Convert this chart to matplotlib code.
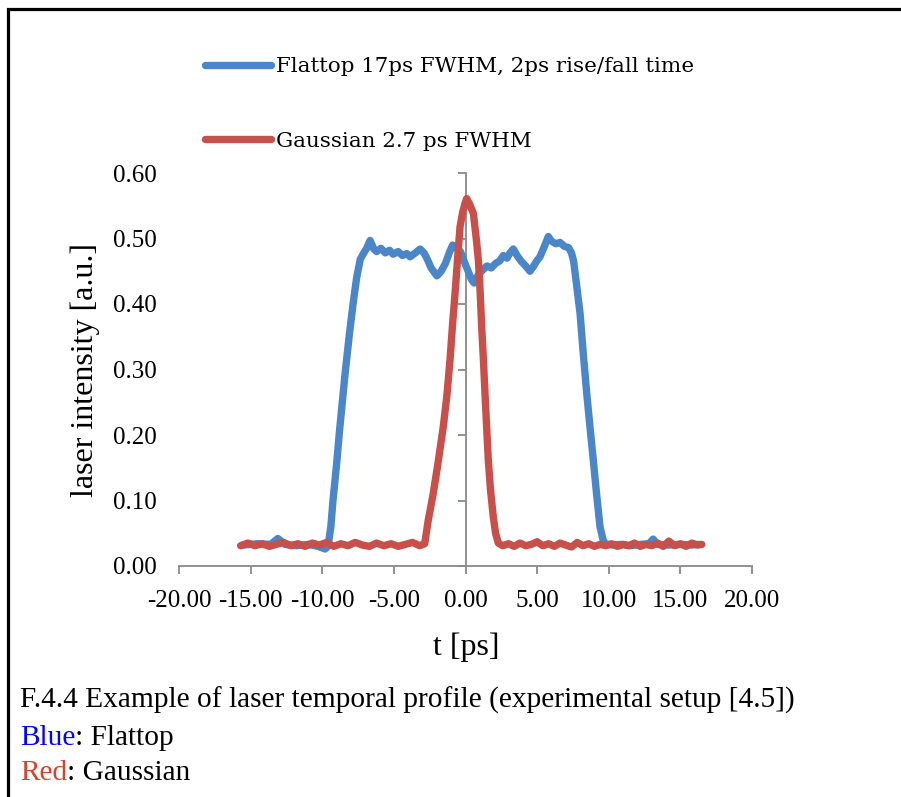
import matplotlib
matplotlib.use("Agg")
import matplotlib.pyplot as plt
from matplotlib.patches import Rectangle

# Flattop pulse (blue)
flat_t = [-15.5, -14.5, -13.6, -13.1, -12.6, -11.8, -11.0, -10.3, -9.8, -9.6,
          -9.4, -9.25, -9.0, -8.8, -8.6, -8.4, -8.1, -7.85, -7.6, -7.35,
          -7.1, -6.9, -6.66, -6.4, -6.2, -5.9, -5.6, -5.3, -5.05, -4.7,
          -4.4, -4.1, -3.87, -3.5, -3.17, -2.9, -2.7, -2.4, -2.0, -1.7,
          -1.4, -1.1, -0.9, -0.6, -0.35, -0.15, 0.15, 0.4, 0.6, 0.9,
          1.2, 1.5, 1.8, 2.1, 2.4, 2.64, 2.9, 3.1, 3.34, 3.6,
          3.9, 4.2, 4.5, 4.7, 4.95, 5.2, 5.45, 5.78, 6.0, 6.3,
          6.6, 6.9, 7.2, 7.4, 7.55, 7.75, 8.0, 8.2, 8.46, 8.7,
          8.92, 9.15, 9.39, 9.6, 9.75, 10.2, 10.8, 11.5, 12.2, 12.8,
          13.1, 13.4, 14.2, 15.0, 15.8, 16.3]
flat_i = [0.032, 0.034, 0.033, 0.042, 0.033, 0.031, 0.033, 0.030, 0.026, 0.030,
          0.060, 0.100, 0.155, 0.205, 0.250, 0.295, 0.355, 0.400, 0.440, 0.468,
          0.478, 0.485, 0.497, 0.484, 0.480, 0.485, 0.478, 0.482, 0.476, 0.480,
          0.474, 0.477, 0.472, 0.478, 0.484, 0.478, 0.470, 0.455, 0.443, 0.450,
          0.462, 0.480, 0.490, 0.485, 0.480, 0.468, 0.452, 0.438, 0.432, 0.445,
          0.452, 0.458, 0.455, 0.462, 0.466, 0.474, 0.470, 0.478, 0.484, 0.474,
          0.465, 0.458, 0.450, 0.456, 0.465, 0.472, 0.485, 0.503, 0.496, 0.492,
          0.494, 0.488, 0.486, 0.478, 0.465, 0.430, 0.385, 0.330, 0.264, 0.210,
          0.162, 0.110, 0.060, 0.040, 0.034, 0.032, 0.033, 0.031, 0.033, 0.034,
          0.041, 0.033, 0.032, 0.033, 0.032, 0.033]

# Gaussian pulse (red)
gauss_t = [-15.7, -15.2, -14.7, -14.2, -13.7, -13.2, -12.7, -12.2, -11.7, -11.2,
           -10.7, -10.2, -9.7, -9.2, -8.7, -8.2, -7.7, -7.2, -6.7, -6.2,
           -5.7, -5.2, -4.7, -4.2, -3.7, -3.2, -2.85, -2.6, -2.25, -1.9,
           -1.55, -1.3, -1.08, -0.9, -0.73, -0.55, -0.38, -0.2, -0.03, 0.08,
           0.3, 0.55, 0.75, 0.9, 1.02, 1.13, 1.25, 1.36, 1.48, 1.59,
           1.75, 1.94, 2.1, 2.29, 2.6, 3.0, 3.4, 3.8, 4.2, 4.6,
           5.0, 5.4, 5.8, 6.2, 6.6, 7.0, 7.4, 7.8, 8.2, 8.6,
           9.0, 9.4, 9.8, 10.2, 10.6, 11.0, 11.4, 11.8, 12.2, 12.6,
           13.0, 13.4, 13.8, 14.2, 14.6, 15.0, 15.4, 15.8, 16.2, 16.5]
gauss_i = [0.031, 0.035, 0.031, 0.034, 0.030, 0.033, 0.036, 0.031, 0.034, 0.030,
           0.035, 0.032, 0.036, 0.030, 0.034, 0.031, 0.036, 0.032, 0.030, 0.035,
           0.031, 0.034, 0.030, 0.033, 0.036, 0.031, 0.034, 0.070, 0.111, 0.160,
           0.213, 0.260, 0.315, 0.370, 0.416, 0.470, 0.518, 0.540, 0.554, 0.561,
           0.552, 0.538, 0.500, 0.467, 0.420, 0.365, 0.315, 0.264, 0.210, 0.162,
           0.115, 0.075, 0.050, 0.035, 0.031, 0.034, 0.030, 0.035, 0.031, 0.033,
           0.037, 0.031, 0.034, 0.030, 0.035, 0.032, 0.029, 0.036, 0.031, 0.034,
           0.030, 0.033, 0.031, 0.034, 0.030, 0.033, 0.031, 0.035, 0.030, 0.033,
           0.031, 0.035, 0.030, 0.038, 0.031, 0.034, 0.030, 0.035, 0.032, 0.033]

labels = ["Flattop 17ps FWHM, 2ps rise/fall time", "Gaussian 2.7 ps FWHM"]
xticks = [-20, -15, -10, -5, 0, 5, 10, 15, 20]
xtick_labels = ["-20.00", "-15.00", "-10.00", "-5.00", "0.00", "5.00", "10.00", "15.00", "20.00"]
yticks = [0.0, 0.1, 0.2, 0.3, 0.4, 0.5, 0.6]
ytick_labels = ["0.00", "0.10", "0.20", "0.30", "0.40", "0.50", "0.60"]

blue = "#4A86C8"
red = "#C8504A"
grey = "#898989"
serif = "Liberation Serif"

W, H = 901, 797
fig = plt.figure(figsize=(W / 100, H / 100), dpi=100)
ax = fig.add_axes([179 / W, 1 - 566 / H, 573 / W, 393 / H])

l1, = ax.plot(flat_t, flat_i, color=blue, lw=5.3, solid_capstyle="round", solid_joinstyle="round")
l2, = ax.plot(gauss_t, gauss_i, color=red, lw=5.3, solid_capstyle="round", solid_joinstyle="round")

ax.set_xlim(-20, 20)
ax.set_ylim(0, 0.6)
for s in ["left", "right", "top"]:
    ax.spines[s].set_visible(False)
ax.spines["bottom"].set_color(grey)
ax.spines["bottom"].set_linewidth(1.3)

ax.set_xticks(xticks, labels=xtick_labels, fontfamily=serif, fontsize=18)
ax.set_yticks(yticks, labels=ytick_labels, fontfamily=serif, fontsize=18)
ax.tick_params(axis="x", length=6, width=1.3, color=grey, pad=11)
ax.tick_params(axis="y", length=0, pad=16)

# vertical axis through t = 0
sec = ax.secondary_yaxis(0.5)
sec.set_alignment("left")
sec.set_yticks(yticks, labels=[""] * len(yticks))
sec.spines["left"].set_color(grey)
sec.spines["left"].set_linewidth(1.3)
sec.tick_params(axis="y", length=6, width=1.3, color=grey)

fig.text(85 / W, 1 - 370 / H, "laser intensity [a.u.]", rotation=90,
         ha="center", va="center", fontfamily=serif, fontsize=23)
fig.text(466 / W, 1 - 647 / H, "t [ps]", ha="center", va="center",
         fontfamily=serif, fontsize=23)

fig.legend([l1, l2], labels, loc="upper left", bbox_to_anchor=(205 / W, 1 - 57 / H),
           frameon=False, borderpad=0, borderaxespad=0, handlelength=3.1,
           handletextpad=0.2, labelspacing=2.6,
           prop={"family": "DejaVu Serif", "size": 15.4})

# caption below the chart
cap_kw = dict(fontfamily=serif, fontsize=21.2, va="baseline", ha="left")
fig.text(20 / W, 1 - 708 / H, "F.4.4 Example of laser temporal profile (experimental setup [4.5])", **cap_kw)
b = fig.text(20 / W, 1 - 745 / H, "Blue", color="#0000FF", **cap_kw)
ax.annotate(": Flattop", xy=(1, 0), xycoords=b, va="bottom", ha="left",
            fontfamily=serif, fontsize=21.2, annotation_clip=False)
r = fig.text(20 / W, 1 - 780 / H, "Red", color="#D2442C", **cap_kw)
ax.annotate(": Gaussian", xy=(1, 0), xycoords=r, va="bottom", ha="left",
            fontfamily=serif, fontsize=21.2, annotation_clip=False)

# black frame (left and top edges)
fig.add_artist(Rectangle((8 / W, -0.1), 1.2, 1.1 - 9 / H, transform=fig.transFigure,
                         fill=False, edgecolor="black", lw=2.3, clip_on=False))

fig.savefig("out.png", dpi=100)
